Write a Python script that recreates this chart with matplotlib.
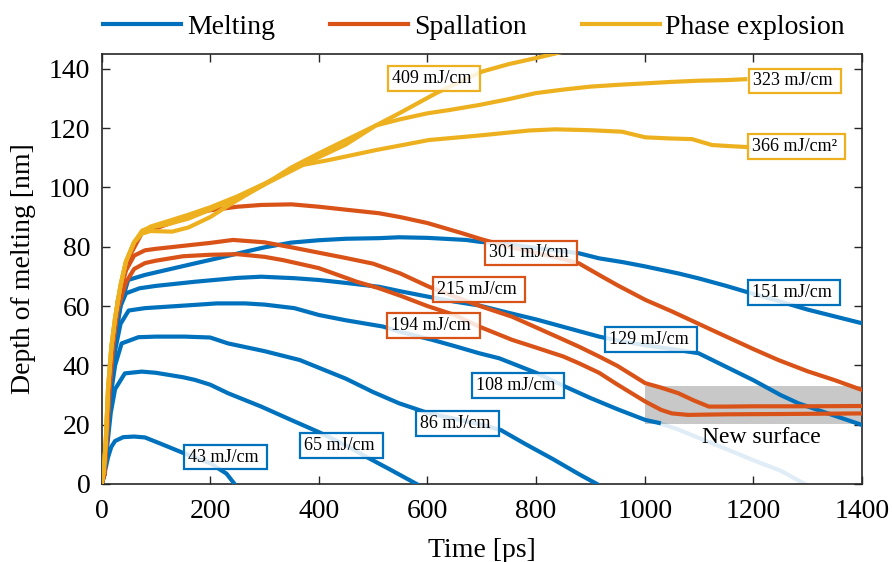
import matplotlib
matplotlib.use("Agg")
import matplotlib.pyplot as plt
from matplotlib.lines import Line2D
from matplotlib.patches import Rectangle

plt.rcParams['font.family'] = ['Liberation Serif', 'DejaVu Serif']

BLUE = '#0072BD'
RED = '#D95319'
YELLOW = '#EDB120'

# ---- Melting curves (time in ps, depth in nm) ----
t_43 = [0, 6, 12, 18, 25, 40, 60, 80, 110, 150, 200, 230, 245]
d_43 = [0, 4, 9, 12.5, 14.5, 15.8, 16.0, 15.7, 13.5, 10.5, 7.0, 3.5, 0]

t_65 = [0, 5, 10, 17, 25, 43, 74, 100, 150, 172, 200, 233, 294, 349, 400, 450, 487, 530, 580]
d_65 = [0, 3, 12, 24, 32, 37.3, 37.9, 37.5, 36.0, 35.1, 33.5, 30.6, 26.1, 21.6, 17.5, 13.0, 9.2, 5.0, 0]

t_86 = [0, 5, 10, 17, 25, 37, 68, 100, 153, 200, 233, 300, 365, 450, 500, 548, 600, 650, 700, 735, 780, 830, 880, 912]
d_86 = [0, 3, 14, 30, 40, 47.4, 49.5, 49.7, 49.7, 49.4, 47.4, 44.8, 41.8, 35.5, 31.0, 27.2, 24.0, 22.0, 20.0, 18.2, 13.5, 8.5, 3.2, 0]

t_108 = [0, 5, 10, 17, 25, 35, 50, 80, 172, 212, 264, 300, 355, 400, 450, 518, 550, 609, 650, 695, 732, 800, 854, 900, 950, 1001, 1026]
d_108 = [0, 3, 15, 32, 45, 54, 58.5, 59.3, 60.4, 60.9, 60.9, 60.5, 59.3, 57.0, 55.2, 53.1, 51.3, 48.6, 46.5, 44.1, 42.4, 37.5, 32.8, 29.0, 25.2, 21.6, 20.6]
# continuation of the 108 mJ/cm curve below the new surface
t_108_tail = [1022, 1060, 1100, 1154, 1200, 1250, 1295]
d_108_tail = [20.8, 18.5, 15.5, 11.5, 8.0, 4.5, 0]

t_129 = [0, 5, 10, 17, 25, 35, 45, 70, 100, 172, 250, 294, 355, 400, 450, 511, 550, 600, 650, 695, 750, 800, 850, 916, 960, 1000, 1050, 1099, 1150, 1200, 1250, 1283, 1350, 1400]
d_129 = [0, 3, 17, 35, 50, 60, 64.3, 66.0, 66.8, 68.2, 69.5, 69.9, 69.4, 68.8, 67.8, 66.5, 65.0, 63.2, 61.5, 60.2, 57.7, 55.5, 53.0, 49.7, 48.0, 46.8, 45.5, 44.1, 39.5, 35.0, 30.0, 27.2, 23.0, 19.9]

t_151 = [0, 5, 10, 15, 25, 35, 49, 80, 120, 172, 220, 264, 300, 349, 400, 450, 511, 548, 600, 671, 695, 750, 800, 879, 916, 960, 1000, 1062, 1100, 1150, 1185, 1250, 1300, 1350, 1400]
d_151 = [0, 3, 18, 33, 48.6, 60, 68.8, 70.5, 72.2, 74.4, 76.4, 78.3, 79.8, 81.4, 82.2, 82.7, 82.9, 83.2, 83.0, 82.3, 81.7, 80.8, 79.6, 77.8, 76.1, 74.8, 73.4, 71.0, 69.3, 66.8, 64.9, 61.5, 58.8, 56.5, 54.2]

# ---- Spallation curves ----
t_194 = [0, 5, 10, 15, 22, 30, 45, 60, 80, 100, 150, 200, 250, 300, 334, 400, 426, 470, 511, 550, 600, 650, 695, 756, 800, 850, 879, 916, 950, 1001, 1030, 1050, 1080, 1150, 1250, 1400]
d_194 = [0, 3, 16, 32, 48, 59, 68, 72.5, 74.5, 75.3, 76.8, 77.3, 77.5, 76.6, 75.5, 72.8, 71.1, 68.2, 66.0, 63.5, 60.0, 57.0, 53.1, 48.6, 46.0, 43.0, 40.7, 37.5, 33.5, 27.8, 25.0, 23.8, 23.3, 23.5, 23.6, 23.8]

t_215 = [0, 5, 10, 15, 22, 30, 45, 60, 80, 100, 150, 200, 242, 300, 350, 400, 450, 500, 550, 603, 650, 700, 756, 800, 850, 879, 916, 950, 1001, 1030, 1062, 1090, 1118, 1150, 1200, 1300, 1400]
d_215 = [0, 3, 18, 35, 50, 62, 72, 77, 78.8, 79.3, 80.3, 81.3, 82.3, 81.5, 79.8, 78.0, 76.2, 74.3, 71.0, 66.5, 63.2, 59.8, 56.4, 52.8, 48.7, 46.3, 43.0, 39.8, 34.0, 32.5, 30.6, 28.2, 26.1, 26.1, 26.2, 26.2, 26.3]

t_301 = [0, 5, 9, 13, 20, 28, 40, 55, 74, 100, 150, 172, 200, 250, 294, 350, 400, 450, 511, 550, 600, 665, 700, 750, 800, 850, 879, 916, 950, 1001, 1050, 1124, 1200, 1246, 1300, 1350, 1400]
d_301 = [0, 3, 15, 30, 45, 58, 70, 78, 84.5, 86.2, 89.5, 91.3, 92.3, 93.5, 94.1, 94.3, 93.5, 92.5, 91.3, 90.0, 88.0, 84.5, 82.5, 80.0, 78.0, 75.8, 74.4, 70.5, 67.0, 62.1, 58.2, 51.9, 45.5, 41.8, 38.0, 35.0, 31.7]

# ---- Phase explosion curves ----
t_323 = [0, 4, 8, 12, 18, 25, 35, 45, 60, 75, 90, 120, 160, 200, 250, 300, 350, 400, 450, 505, 550, 600, 640, 695, 750, 799, 850, 900, 950, 1001, 1050, 1100, 1150, 1185]
d_323 = [0, 4, 15, 32, 46, 56, 67, 75, 81.5, 85, 86.8, 88.5, 90.8, 93.3, 97.0, 101.3, 106.0, 110.2, 114.5, 120.9, 123.0, 125.0, 126.1, 127.8, 129.8, 131.8, 133.0, 134.0, 134.6, 135.1, 135.6, 136.0, 136.2, 136.5]

t_366 = [0, 4, 8, 12, 18, 25, 35, 45, 60, 75, 90, 120, 160, 200, 250, 300, 371, 420, 505, 560, 603, 640, 700, 787, 836, 900, 958, 1001, 1050, 1087, 1124, 1160, 1191]
d_366 = [0, 4, 15, 32, 46, 56, 67, 75, 81.5, 85.5, 86.5, 87.5, 89.5, 92.5, 96.5, 101.0, 107.6, 109.3, 112.6, 114.5, 116.0, 116.6, 117.6, 119.2, 119.6, 119.3, 118.8, 116.9, 116.5, 116.3, 114.3, 113.9, 113.6]

t_409 = [0, 4, 8, 12, 18, 25, 35, 45, 60, 75, 90, 110, 130, 160, 200, 230, 260, 300, 350, 400, 450, 505, 550, 616, 650, 701, 750, 799, 836, 900]
d_409 = [0, 4, 15, 32, 46, 56, 67, 75, 81.5, 84.5, 85.3, 85.2, 85.1, 86.5, 90.0, 93.5, 96.8, 101.0, 106.8, 111.5, 116.0, 120.9, 125.2, 131.8, 134.8, 139.1, 141.6, 143.6, 145.2, 148.0]

melting = [(t_43, d_43), (t_65, d_65), (t_86, d_86), (t_108, d_108), (t_129, d_129), (t_151, d_151)]
spallation = [(t_194, d_194), (t_215, d_215), (t_301, d_301)]
explosion = [(t_323, d_323), (t_366, d_366), (t_409, d_409)]

legend_labels = ['Melting', 'Spallation', 'Phase explosion']
x_ticks = [0, 200, 400, 600, 800, 1000, 1200, 1400]
y_ticks = [0, 20, 40, 60, 80, 100, 120, 140]

# fluence annotations: (text, colour, x, y)
annotations = [
    ('43 mJ/cm', BLUE, 229, 9.1),
    ('65 mJ/cm', BLUE, 442, 13.0),
    ('86 mJ/cm', BLUE, 656, 20.5),
    ('108 mJ/cm', BLUE, 766, 33.2),
    ('129 mJ/cm', BLUE, 1011, 48.7),
    ('151 mJ/cm', BLUE, 1275, 64.5),
    ('194 mJ/cm', RED, 611, 53.5),
    ('215 mJ/cm', RED, 695, 65.7),
    ('301 mJ/cm', RED, 791, 77.9),
    ('409 mJ/cm', YELLOW, 612, 136.6),
    ('323 mJ/cm', YELLOW, 1277, 135.9),
    ('366 mJ/cm\u00b2', YELLOW, 1279, 113.8),
]

fig = plt.figure(figsize=(8.92, 5.62), dpi=100)
ax = fig.add_axes([0.1138, 0.1388, 0.8526, 0.7651])

LW = 3.0

# shaded band marking the new surface
ax.add_patch(Rectangle((1000, 20.2), 400, 12.8, facecolor='#c8c8c8', edgecolor='none', zorder=1))
ax.text(1215, 15.8, 'New surface', fontsize=17, ha='center', va='center', zorder=6)

ax.plot(t_108_tail, d_108_tail, color=BLUE, lw=LW, alpha=0.12, zorder=2)
for t, d in melting:
    ax.plot(t, d, color=BLUE, lw=LW, solid_joinstyle='round', zorder=3)
for t, d in spallation:
    ax.plot(t, d, color=RED, lw=LW, solid_joinstyle='round', zorder=3)
for t, d in explosion:
    ax.plot(t, d, color=YELLOW, lw=LW, solid_joinstyle='round', zorder=3)

for text, col, x, y in annotations:
    ax.text(x, y, text + ' ', fontsize=13, ha='center', va='center', zorder=5,
            bbox=dict(boxstyle='square,pad=0.22', facecolor=(1, 1, 1, 0.85),
                      edgecolor=col, linewidth=1.6))

ax.set_xlim(0, 1400)
ax.set_ylim(0, 145)
ax.set_xticks(x_ticks)
ax.set_yticks(y_ticks)
ax.tick_params(direction='in', length=6, width=1, top=True, right=True,
               labelsize=20, colors='#262626', labelcolor='black')
ax.tick_params(axis='x', pad=11)
ax.tick_params(axis='y', pad=8)
for s in ax.spines.values():
    s.set_linewidth(1.2)
    s.set_color('#262626')
ax.set_xlabel('Time [ps]', fontsize=20, labelpad=10)
ax.set_ylabel('Depth of melting [nm]', fontsize=20, labelpad=9)

handles = [Line2D([], [], color=c, lw=LW) for c in (BLUE, RED, YELLOW)]
fig.legend(handles, legend_labels, loc='center left', bbox_to_anchor=(0.116, 0.952),
           ncol=3, frameon=False, fontsize=20, handlelength=2.8, handletextpad=0.2,
           columnspacing=2.0, borderpad=0, borderaxespad=0)

fig.savefig('out.png', dpi=100)
